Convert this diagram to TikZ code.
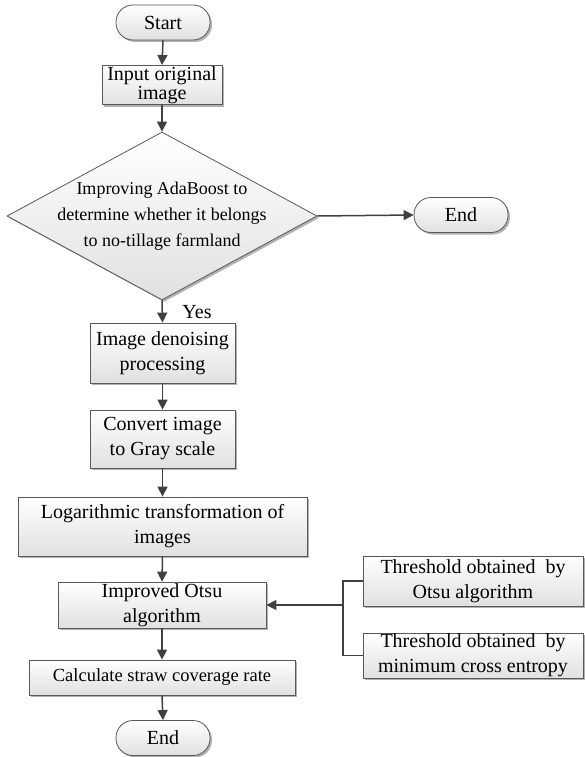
\documentclass[tikz,border=0pt]{standalone}
\usepackage{fontspec}
\setmainfont{Liberation Serif}
\newfontfamily\tnrfont{Liberation Serif}
\usetikzlibrary{shapes.geometric,arrows.meta,shadows}
\begin{document}
\begin{tikzpicture}[x=1pt,y=-1pt,
  font=\tnrfont\fontsize{20}{25}\selectfont,
  box/.style={draw=black!65, line width=0.8pt, top color=white, bottom color=black!12,
    drop shadow={shadow xshift=2pt,shadow yshift=-2pt,fill=black!30,opacity=1},
    align=center, inner sep=1pt},
  term/.style={box, rounded corners=17pt, minimum width=94pt, minimum height=35pt},
  dia/.style={box, diamond, minimum width=310pt, minimum height=168pt, inner sep=0pt},
  arr/.style={draw=black!75, line width=1.5pt, -{Triangle[length=10pt,width=10pt]}},
  link/.style={draw=black!75, line width=1.5pt}
]
\useasboundingbox (0,0) rectangle (585,757);

\node[term] (start) at (163,22.5) {Start};
\node[box, minimum width=120pt, minimum height=38pt, font=\tnrfont\fontsize{20}{19}\selectfont] (input) at (162,85) {Input original\\image};
\node[dia] (dec) at (162,216) {};
\node[align=center, font=\tnrfont\fontsize{18}{26}\selectfont] (dectext) at (162,216) {Improving AdaBoost to\\determine whether it belongs\\to no-tillage farmland};
\node[term] (end1) at (461,215) {End};
\node[box, minimum width=145pt, minimum height=60pt] (den) at (162.5,353) {Image denoising\\processing};
\node[box, minimum width=145pt, minimum height=58pt] (gray) at (162.5,439) {Convert image\\to Gray scale};
\node[box, minimum width=289pt, minimum height=59pt] (log) at (162.5,526.5) {Logarithmic transformation of\\images};
\node[box, minimum width=208pt, minimum height=46pt] (otsu) at (162,605) {Improved Otsu\\algorithm};
\node[box, minimum width=266pt, minimum height=35pt, font=\tnrfont\fontsize{18.5}{22}\selectfont] (calc) at (162,677.5) {Calculate straw coverage rate};
\node[term] (end2) at (163,738) {End};
\node[box, minimum width=220pt, minimum height=50pt] (th1) at (473,581) {Threshold obtained\ \ by\\Otsu algorithm};
\node[box, minimum width=220pt, minimum height=45pt] (th2) at (473,655.5) {Threshold obtained\ \ by\\minimum cross entropy};
\node (yes) at (197,312) {Yes};
\coordinate (j1) at (343,581);
\coordinate (j2) at (343,655.5);
\coordinate (jm) at (343,605);

\draw[arr] (start.south) -- (input.north);
\draw[arr] (input.south) -- (dec.north);
\draw[arr] (dec.east) -- (end1.west);
\draw[arr] (dec.south) -- (den.north);
\draw[arr] (den.south) -- (gray.north);
\draw[arr] (gray.south) -- (log.north);
\draw[arr] (log.south) -- (otsu.north);
\draw[arr] (otsu.south) -- (calc.north);
\draw[arr] (calc.south) -- (end2.north);
\draw[link] (th1.west) -- (j1) -- (j2) -- (th2.west);
\draw[arr] (jm) -- (otsu.east);
\end{tikzpicture}
\end{document}
